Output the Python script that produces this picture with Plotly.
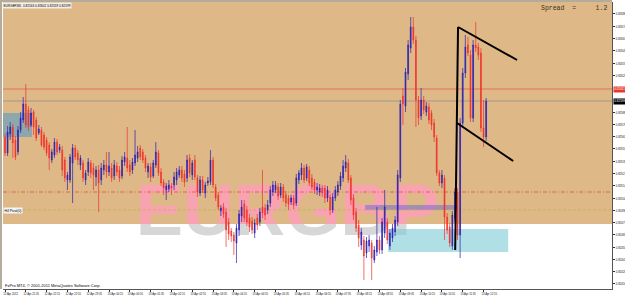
import plotly.graph_objects as go

# ---------------- data (EURGBP, M5) ----------------
symbol = "EURGBP"
timeframe = "M5"
bars = list(range(186))

open_ = [0.82563,0.82547,0.82566,0.82573,0.82560,0.82548,0.82570,0.82580,0.82596,0.82590,
 0.82575,0.82588,0.82580,0.82567,0.82570,0.82565,0.82560,0.82555,0.82540,0.82545,
 0.82558,0.82550,0.82550,0.82540,0.82520,0.82520,0.82537,0.82552,0.82547,0.82535,
 0.82537,0.82520,0.82528,0.82537,0.82532,0.82523,0.82530,0.82520,0.82530,0.82535,
 0.82528,0.82532,0.82524,0.82534,0.82530,0.82524,0.82538,0.82542,0.82535,0.82530,
 0.82537,0.82542,0.82552,0.82548,0.82542,0.82528,0.82533,0.82524,0.82535,0.82547,
 0.82528,0.82518,0.82510,0.82511,0.82514,0.82515,0.82520,0.82525,0.82530,0.82526,
 0.82522,0.82542,0.82525,0.82540,0.82522,0.82507,0.82520,0.82507,0.82517,0.82518,
 0.82540,0.82513,0.82505,0.82489,0.82493,0.82488,0.82478,0.82469,0.82465,0.82457,
 0.82470,0.82484,0.82496,0.82490,0.82482,0.82479,0.82467,0.82482,0.82478,0.82493,
 0.82492,0.82490,0.82497,0.82508,0.82510,0.82513,0.82505,0.82513,0.82505,0.82502,
 0.82498,0.82502,0.82497,0.82520,0.82525,0.82532,0.82522,0.82530,0.82522,0.82518,
 0.82510,0.82508,0.82512,0.82512,0.82502,0.82503,0.82490,0.82502,0.82508,0.82514,
 0.82522,0.82532,0.82537,0.82522,0.82502,0.82488,0.82475,0.82455,0.82460,0.82447,
 0.82454,0.82457,0.82440,0.82448,0.82460,0.82450,0.82467,0.82478,0.82454,0.82462,
 0.82468,0.82478,0.82522,0.82604,0.82594,0.82626,0.82652,0.82673,0.82660,0.82600,
 0.82584,0.82600,0.82588,0.82593,0.82587,0.82577,0.82562,0.82527,0.82517,0.82522,
 0.82483,0.82473,0.82454,0.82482,0.82508,0.82465,0.82577,0.82627,0.82655,0.82645,
 0.82582,0.82655,0.82653,0.82647,0.82572,0.82563]

high = [0.82567,0.82574,0.82578,0.82576,0.82564,0.82574,0.82588,0.82603,0.82616,0.82594,
 0.82592,0.82590,0.82583,0.82575,0.82573,0.82568,0.82563,0.82558,0.82551,0.82562,
 0.82561,0.82556,0.82554,0.82543,0.82528,0.82546,0.82556,0.82555,0.82550,0.82545,
 0.82540,0.82530,0.82542,0.82540,0.82537,0.82534,0.82535,0.82537,0.82540,0.82548,
 0.82548,0.82537,0.82540,0.82538,0.82534,0.82544,0.82548,0.82573,0.82540,0.82542,
 0.82570,0.82554,0.82555,0.82551,0.82545,0.82537,0.82537,0.82540,0.82558,0.82550,
 0.82532,0.82521,0.82517,0.82520,0.82517,0.82528,0.82532,0.82534,0.82534,0.82530,
 0.82545,0.82546,0.82540,0.82545,0.82525,0.82524,0.82524,0.82518,0.82523,0.82550,
 0.82543,0.82516,0.82508,0.82495,0.82497,0.82492,0.82482,0.82472,0.82468,0.82476,
 0.82490,0.82500,0.82500,0.82494,0.82486,0.82483,0.82481,0.82486,0.82492,0.82530,
 0.82496,0.82500,0.82514,0.82519,0.82519,0.82517,0.82517,0.82516,0.82509,0.82505,
 0.82505,0.82505,0.82526,0.82530,0.82537,0.82535,0.82536,0.82534,0.82526,0.82521,
 0.82517,0.82516,0.82515,0.82515,0.82514,0.82506,0.82507,0.82514,0.82519,0.82528,
 0.82540,0.82545,0.82541,0.82525,0.82506,0.82492,0.82480,0.82472,0.82464,0.82463,
 0.82465,0.82460,0.82454,0.82493,0.82464,0.82482,0.82510,0.82482,0.82471,0.82476,
 0.82484,0.82530,0.82600,0.82612,0.82632,0.82660,0.82683,0.82683,0.82664,0.82604,
 0.82612,0.82604,0.82598,0.82597,0.82590,0.82581,0.82565,0.82530,0.82530,0.82525,
 0.82487,0.82477,0.82489,0.82512,0.82512,0.82582,0.82632,0.82665,0.82663,0.82650,
 0.82660,0.82678,0.82657,0.82652,0.82600,0.82602]

low = [0.82544,0.82544,0.82560,0.82542,0.82540,0.82545,0.82567,0.82577,0.82572,0.82569,
 0.82573,0.82565,0.82559,0.82565,0.82553,0.82550,0.82544,0.82530,0.82537,0.82542,
 0.82545,0.82547,0.82524,0.82518,0.82510,0.82517,0.82497,0.82540,0.82535,0.82530,
 0.82518,0.82515,0.82524,0.82522,0.82510,0.82514,0.82488,0.82515,0.82525,0.82522,
 0.82524,0.82518,0.82520,0.82524,0.82518,0.82521,0.82534,0.82528,0.82524,0.82526,
 0.82534,0.82538,0.82540,0.82537,0.82528,0.82522,0.82518,0.82522,0.82532,0.82524,
 0.82514,0.82505,0.82500,0.82508,0.82505,0.82510,0.82515,0.82522,0.82518,0.82513,
 0.82518,0.82523,0.82520,0.82520,0.82503,0.82504,0.82507,0.82502,0.82514,0.82515,
 0.82512,0.82499,0.82490,0.82484,0.82482,0.82453,0.82460,0.82458,0.82445,0.82437,
 0.82464,0.82478,0.82478,0.82474,0.82468,0.82466,0.82462,0.82470,0.82474,0.82482,
 0.82480,0.82486,0.82493,0.82504,0.82507,0.82500,0.82502,0.82498,0.82493,0.82490,
 0.82495,0.82491,0.82494,0.82516,0.82520,0.82517,0.82519,0.82514,0.82510,0.82506,
 0.82505,0.82504,0.82503,0.82497,0.82498,0.82485,0.82487,0.82499,0.82504,0.82510,
 0.82518,0.82528,0.82517,0.82495,0.82480,0.82468,0.82453,0.82450,0.82420,0.82442,
 0.82448,0.82420,0.82437,0.82444,0.82446,0.82446,0.82462,0.82456,0.82450,0.82458,
 0.82464,0.82474,0.82518,0.82575,0.82588,0.82620,0.82647,0.82656,0.82573,0.82575,
 0.82580,0.82586,0.82584,0.82576,0.82570,0.82558,0.82524,0.82514,0.82512,0.82460,
 0.82466,0.82453,0.82450,0.82478,0.82460,0.82442,0.82572,0.82622,0.82644,0.82578,
 0.82578,0.82648,0.82640,0.82568,0.82553,0.82559]

close = [0.82547,0.82568,0.82573,0.82557,0.82543,0.82570,0.82582,0.82596,0.82575,0.82573,
 0.82587,0.82573,0.82562,0.82571,0.82555,0.82553,0.82547,0.82542,0.82548,0.82558,
 0.82548,0.82553,0.82530,0.82522,0.82525,0.82543,0.82552,0.82543,0.82540,0.82542,
 0.82522,0.82527,0.82538,0.82527,0.82525,0.82530,0.82517,0.82532,0.82535,0.82528,
 0.82534,0.82522,0.82535,0.82528,0.82522,0.82540,0.82543,0.82532,0.82528,0.82538,
 0.82545,0.82548,0.82543,0.82540,0.82532,0.82534,0.82523,0.82537,0.82548,0.82527,
 0.82517,0.82512,0.82514,0.82515,0.82512,0.82523,0.82528,0.82530,0.82522,0.82518,
 0.82540,0.82527,0.82537,0.82523,0.82508,0.82520,0.82510,0.82515,0.82519,0.82540,
 0.82515,0.82502,0.82493,0.82492,0.82486,0.82470,0.82466,0.82464,0.82459,0.82472,
 0.82486,0.82493,0.82482,0.82478,0.82473,0.82470,0.82477,0.82475,0.82488,0.82487,
 0.82485,0.82495,0.82510,0.82515,0.82515,0.82504,0.82513,0.82502,0.82497,0.82496,
 0.82502,0.82495,0.82522,0.82527,0.82532,0.82520,0.82533,0.82517,0.82513,0.82510,
 0.82513,0.82512,0.82507,0.82502,0.82510,0.82490,0.82503,0.82510,0.82515,0.82524,
 0.82534,0.82538,0.82520,0.82500,0.82485,0.82472,0.82462,0.82468,0.82444,0.82459,
 0.82460,0.82442,0.82450,0.82460,0.82450,0.82478,0.82493,0.82460,0.82467,0.82472,
 0.82480,0.82525,0.82596,0.82596,0.82628,0.82655,0.82673,0.82660,0.82600,0.82582,
 0.82600,0.82590,0.82594,0.82580,0.82575,0.82563,0.82527,0.82517,0.82525,0.82483,
 0.82470,0.82457,0.82485,0.82508,0.82465,0.82577,0.82627,0.82653,0.82647,0.82582,
 0.82655,0.82652,0.82645,0.82572,0.82563,0.82599]

# time axis labels (every 8 bars = 40 minutes)
time_tick_bars = [0, 8, 16, 24, 32, 40, 48, 56, 64, 72, 80, 88, 96, 104, 112, 120,
                  128, 136, 144, 152, 160, 168, 176, 184]
time_tick_labels = ["12 Apr 2012", "12 Apr 21:35", "12 Apr 22:15", "12 Apr 22:55",
                    "12 Apr 23:35", "13 Apr 00:15", "13 Apr 00:55", "13 Apr 01:35",
                    "13 Apr 02:15", "13 Apr 02:55", "13 Apr 03:35", "13 Apr 04:15",
                    "13 Apr 04:55", "13 Apr 05:35", "13 Apr 06:15", "13 Apr 06:55",
                    "13 Apr 07:35", "13 Apr 08:15", "13 Apr 08:55", "13 Apr 09:35",
                    "13 Apr 10:15", "13 Apr 10:55", "13 Apr 11:35", "13 Apr 12:15"]

spread_pips = 1.2
level_dashdot = 0.82508      # orange dash-dot level
level_dashed = 0.82490       # yellow dashed level
level_label = "H4 Pivot(0)"
white_zone_top = 0.82476     # white rectangle object (upper edge)
# rectangle objects: (bar0, bar1, price0, price1)
zone_left = (-0.8, 10.4, 0.82563, 0.82587)
zone_cyan = (147.3, 193.5, 0.82448, 0.82471)
zone_band = (138.5, 174.2, 0.82490, 0.82495)
# trend lines: (bar0, price0, bar1, price1)
trend_lines = [(174.2, 0.82673, 196.9, 0.82640),
               (174.2, 0.82673, 173.1, 0.82450),
               (173.8, 0.82577, 195.4, 0.82539)]

# ---------------- styling ----------------
TAN = "#DEB887"
BLUE = "#2A1FB0"
RED = "#F2302A"
x_range = [-0.77, 233.4]
y_top, y_bot = 0.82698, 0.82411
fb = (white_zone_top - y_bot) / (y_top - y_bot)

bid = close[-1]
ask = round(bid + spread_pips / 10000, 5)

fig = go.Figure()

wm_x = 108.5
wm_y = 0.824835
for ax, ay, col in (("x", "y", "#F8A2B2"), ("x2", "y2", "#D7D7D7")):
    fig.add_trace(go.Scatter(
        x=[wm_x], y=[wm_y], mode="text", text=[symbol], xaxis=ax, yaxis=ay,
        textposition="middle center", cliponaxis=True, hoverinfo="skip",
        textfont=dict(family="Liberation Sans", size=73, color=col, weight="bold")))

fig.add_trace(go.Candlestick(
    x=bars, open=open_, high=high, low=low, close=close, xaxis="x3", yaxis="y3",
    increasing=dict(line=dict(color=BLUE, width=0.7), fillcolor=BLUE),
    decreasing=dict(line=dict(color=RED, width=0.7), fillcolor=RED),
    whiskerwidth=0, hoverinfo="skip"))

shapes = []
shapes.append(dict(type="rect", xref="paper", yref="y3", x0=0, x1=1,
                   y0=white_zone_top, y1=y_top, fillcolor=TAN, line=dict(width=0), layer="below"))
shapes.append(dict(type="rect", xref="paper", yref="paper", x0=-0.0049, x1=-0.0016, y0=0, y1=1.007,
                   fillcolor="#B3AB9C", line=dict(width=0), layer="below"))
shapes.append(dict(type="rect", xref="paper", yref="paper", x0=-0.0049, x1=1, y0=1.0, y1=1.007,
                   fillcolor="#B3AB9C", line=dict(width=0), layer="below"))

def rect(z, color, opacity=1.0):
    return dict(type="rect", xref="x3", yref="y3", x0=z[0], x1=z[1], y0=z[2], y1=z[3],
                fillcolor=color, opacity=opacity, line=dict(width=0), layer="below")

shapes.append(rect(zone_left, "#8DA8AC"))
shapes.append(rect(zone_cyan, "#7FCBD6", 0.62))
shapes.append(rect(zone_band, "#5A5ADC", 0.45))

def hline(p, color, dash="solid", width=1):
    return dict(type="line", xref="x3", yref="y3", x0=x_range[0], x1=x_range[1], y0=p, y1=p,
                line=dict(color=color, width=width, dash=dash), layer="below")

shapes.append(hline(ask, "#E27552"))
shapes.append(hline(bid, "#A39A88"))
shapes.append(hline(level_dashdot, "#E0684A", "4px,2px,1px,2px"))
shapes.append(hline(level_dashed, "#C2B65A", "3px,2px"))

for (b0, p0, b1, p1) in trend_lines:
    shapes.append(dict(type="line", xref="x3", yref="y3", x0=b0, y0=p0, x1=b1, y1=p1,
                       line=dict(color="black", width=2), layer="above"))

# price scale ticks (hidden where the bid/ask boxes sit)
tick_step = 0.0001227
ytick_vals = [0.826983 - k * tick_step for k in range(24)]
ytick_vals = [v for v in ytick_vals if abs(v - bid) > 0.00006 and abs(v - ask) > 0.00006]
ytick_text = ["%.5f" % v for v in ytick_vals]

annotations = [
    dict(xref="paper", yref="paper", x=0, y=1, xanchor="left", yanchor="top", xshift=-1,
         text="%s,%s  %.5f %.5f %.5f %.5f" % (symbol, timeframe, open_[-1], high[-1], low[-1], close[-1]),
         showarrow=False, bgcolor="#F3EEE6", borderpad=0.5,
         font=dict(family="Liberation Sans", size=3.1, color="black")),
    dict(xref="paper", yref="paper", x=0.995, y=0.979, xanchor="right", yanchor="middle",
         text="Spread\u00a0\u00a0=\u00a0\u00a0\u00a0\u00a0\u00a0" + str(spread_pips), showarrow=False,
         font=dict(family="Liberation Mono", size=6.5, color="#3A3226")),
    dict(xref="paper", yref="paper", x=0, y=0.012, xanchor="left", yanchor="middle",
         text="FxPro MT4, \u00a9 2001-2011 MetaQuotes Software Corp.", showarrow=False,
         font=dict(family="Liberation Sans", size=4, color="black")),
    dict(xref="paper", yref="y3", x=0, y=level_dashed, xanchor="left", yanchor="middle",
         text=level_label, showarrow=False, bgcolor="#F4F4F4", borderpad=0.5,
         font=dict(family="Liberation Sans", size=3.4, color="black")),
    dict(xref="paper", yref="y3", x=1, y=ask, xanchor="left", yanchor="middle", xshift=0.5,
         text="%.5f" % ask, showarrow=False, bgcolor="#E83A2C", borderpad=0.3,
         font=dict(family="Liberation Sans", size=3.0, color="white")),
    dict(xref="paper", yref="y3", x=1, y=bid, xanchor="left", yanchor="middle", xshift=0.5,
         text="%.5f" % bid, showarrow=False, bgcolor="black", borderpad=0.3,
         font=dict(family="Liberation Sans", size=3.0, color="white")),
]
# time labels along the bottom, just right of each tick mark
for b, lab in zip(time_tick_bars, time_tick_labels):
    annotations.append(dict(xref="x3", yref="paper", x=b, y=0, xanchor="center", yanchor="top",
                            xshift=6, yshift=-0.5, text=lab, showarrow=False, borderpad=0,
                            font=dict(family="Liberation Sans", size=4.3, color="#111")))

hidden = dict(visible=False, showgrid=False, zeroline=False, fixedrange=True)
fig.update_layout(
    template="none", width=625, height=296,
    margin=dict(l=3, r=13, t=2, b=7, pad=0),
    paper_bgcolor="white", plot_bgcolor="rgba(0,0,0,0)",
    showlegend=False, hovermode=False,
    font=dict(family="Liberation Sans", size=4.2, color="black"),
    boxgap=0.55, boxgroupgap=0.3,
    xaxis=dict(domain=[0, 1], anchor="y", range=x_range, **hidden),
    yaxis=dict(domain=[fb, 1], anchor="x", range=[white_zone_top, y_top], **hidden),
    xaxis2=dict(domain=[0, 1], anchor="y2", range=x_range, **hidden),
    yaxis2=dict(domain=[0, fb], anchor="x2", range=[y_bot, white_zone_top], **hidden),
    xaxis3=dict(domain=[0, 1], anchor="y3", range=x_range, showgrid=False, zeroline=False,
                tickmode="array", tickvals=time_tick_bars, showticklabels=False,
                ticks="outside", ticklen=2, tickwidth=1, tickcolor="#333",
                showline=True, linecolor="#555", linewidth=1,
                automargin=False, fixedrange=True, rangeslider=dict(visible=False)),
    yaxis3=dict(domain=[0, 1], anchor="x3", side="right", range=[y_bot, y_top],
                showgrid=False, zeroline=False, tickmode="array", tickvals=ytick_vals,
                ticktext=ytick_text, ticks="outside", ticklen=2, tickcolor="#333",
                showline=True, linecolor="#555", linewidth=1,
                tickfont=dict(family="Liberation Sans", size=4.2, color="#111"),
                automargin=False, fixedrange=True),
    shapes=shapes, annotations=annotations,
)

post = """
(function(){
  var gd = document.getElementById('{plot_id}');
  if (!gd) return;
  function squish(t, sx){
    try {
      var b = t.getBBox();
      var a = t.getAttribute('text-anchor') || 'start';
      var px = a === 'middle' ? b.x + b.width/2 : (a === 'end' ? b.x + b.width : b.x);
      var tr = t.getAttribute('transform') || '';
      t.setAttribute('transform', tr + ' translate(' + px + ',0) scale(' + sx + ',1) translate(' + (-px) + ',0)');
    } catch(e) {}
  }
  gd.querySelectorAll('g.textpoint text').forEach(function(t){ squish(t, 0.97); });
  gd.querySelectorAll('g.y3tick text').forEach(function(t){ squish(t, 0.68); });
  gd.querySelectorAll('text.annotation-text').forEach(function(t){
    if (/\\d+ Apr /.test(t.textContent)) squish(t, 0.64);
  });
})();
"""

fig.write_html("out.html", config={"displayModeBar": False, "staticPlot": True}, post_script=post)
